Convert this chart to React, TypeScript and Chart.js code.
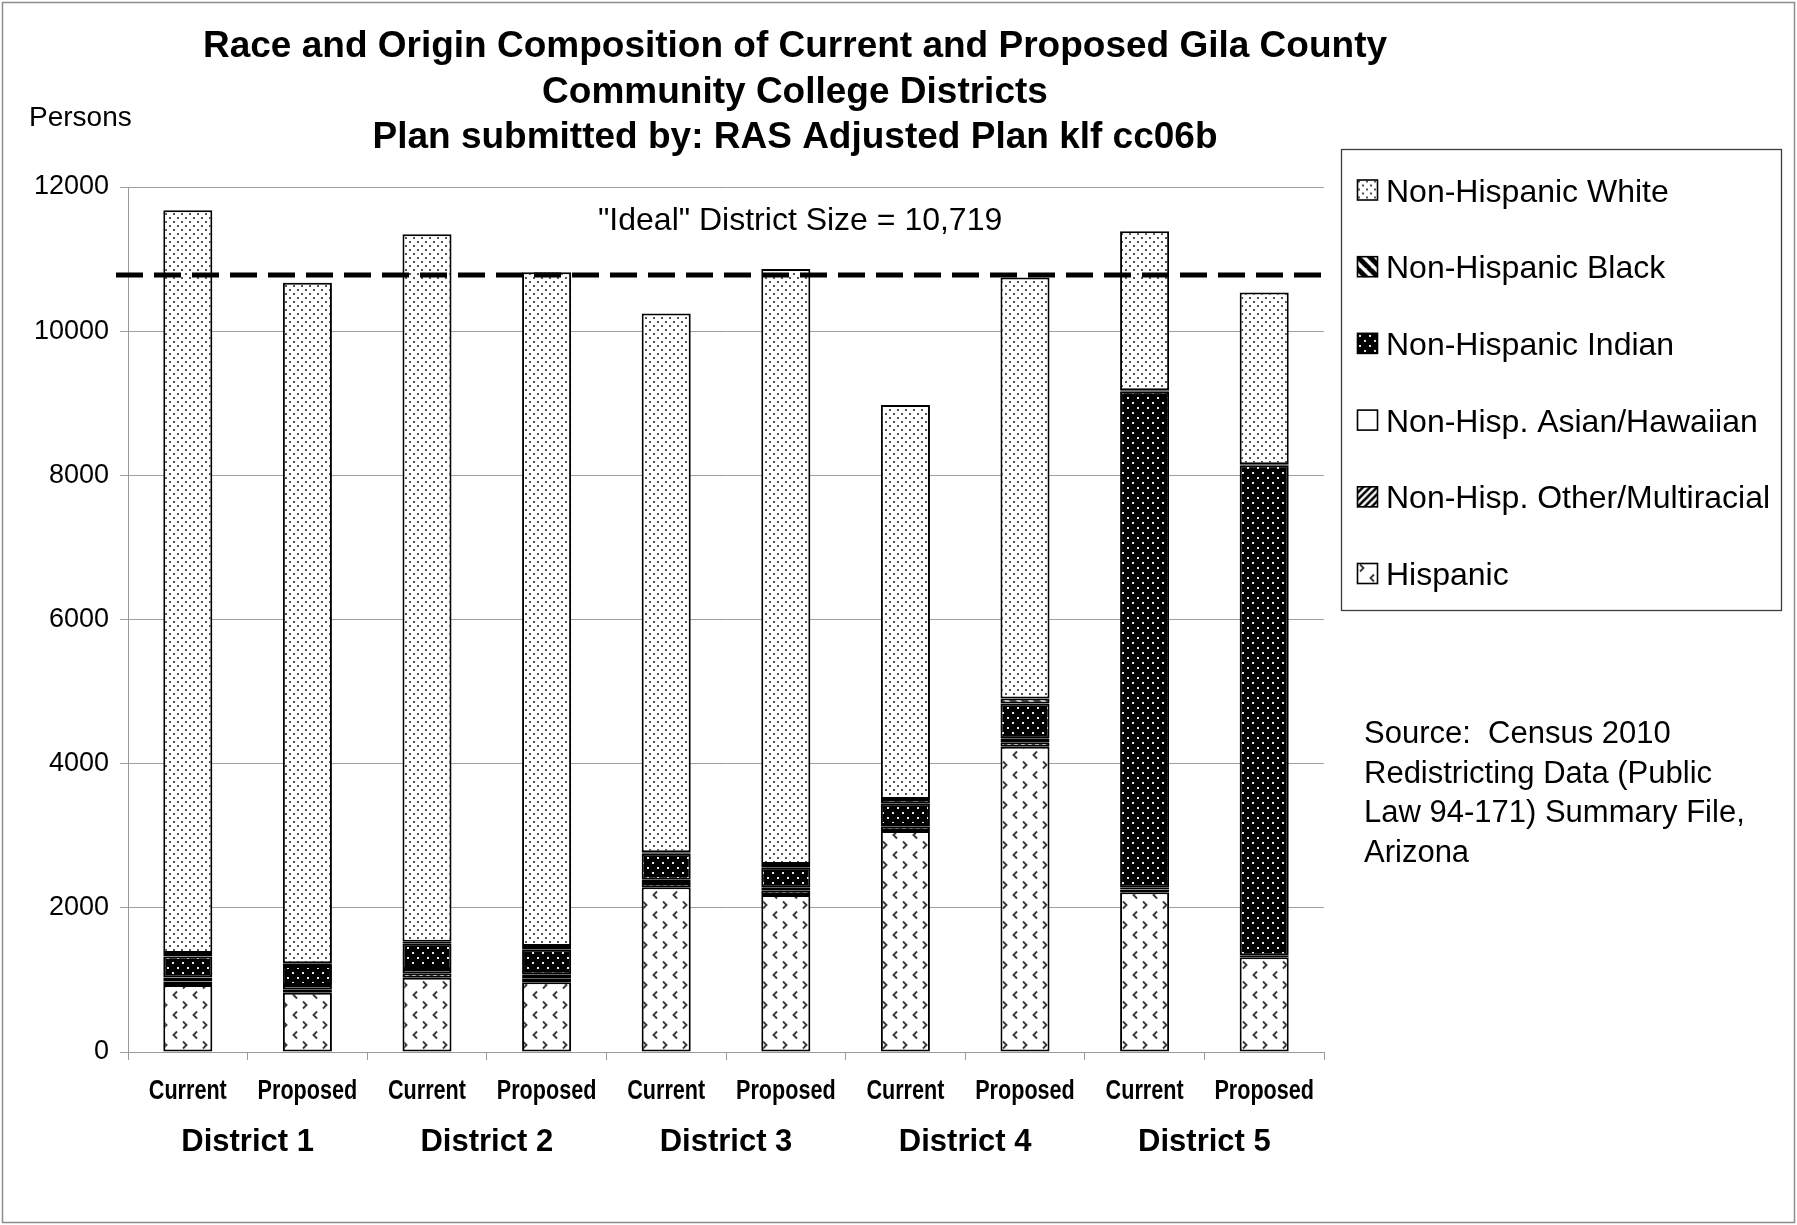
import React, { useEffect, useRef } from 'react';
import { Chart, registerables } from 'chart.js';

Chart.register(...registerables);

// ---------- data ----------
const barLabels = ['Current', 'Proposed', 'Current', 'Proposed', 'Current', 'Proposed', 'Current', 'Proposed', 'Current', 'Proposed'];
const districtLabels = ['District 1', 'District 2', 'District 3', 'District 4', 'District 5'];

const hispanic = [929, 823, 1031, 967, 2284, 2178, 3065, 4235, 2215, 1313];
const otherMulti = [50, 47, 61, 55, 60, 60, 60, 61, 40, 20];
const asianHawaiian = [55, 60, 60, 55, 45, 42, 25, 55, 25, 10];
const indian = [291, 264, 356, 347, 361, 283, 300, 485, 6881, 6797];
const black = [47, 37, 23, 46, 20, 46, 60, 69, 20, 15];
const white = [10306, 9439, 9814, 9348, 7475, 8255, 5467, 5839, 2206, 2381];

const yTickValues = [0, 2000, 4000, 6000, 8000, 10000, 12000];
const idealLineValue = 10780;
const idealText = '"Ideal" District Size = 10,719';

const titleLines = [
  'Race and Origin Composition of Current and Proposed Gila County',
  'Community College Districts',
  'Plan submitted by: RAS Adjusted Plan klf cc06b',
];
const yAxisTitle = 'Persons';
const sourceLines = ['Source:  Census 2010', 'Redistricting Data (Public', 'Law 94-171) Summary File,', 'Arizona'];

// ---------- styling ----------
const FONT = '"Liberation Sans", Arial, Helvetica, sans-serif';

type PatternKind = 'white' | 'black' | 'indian' | 'asian' | 'other' | 'hispanic';

function makePattern(kind: PatternKind): CanvasPattern | string {
  const c = document.createElement('canvas');
  let n = 10;
  if (kind === 'white') n = 8;
  if (kind === 'indian') n = 10;
  if (kind === 'hispanic') n = 20;
  if (kind === 'black') n = 12;
  if (kind === 'other') n = 7;
  c.width = n;
  c.height = n;
  const g = c.getContext('2d');
  if (!g) return '#ffffff';
  if (kind === 'asian') return '#ffffff';
  if (kind === 'white') {
    g.fillStyle = '#ffffff';
    g.fillRect(0, 0, n, n);
    g.fillStyle = '#555555';
    g.fillRect(1, 1, 2, 2);
    g.fillRect(5, 5, 2, 2);
  } else if (kind === 'indian') {
    g.fillStyle = '#000000';
    g.fillRect(0, 0, n, n);
    g.fillStyle = '#e8e8e8';
    g.fillRect(2, 2, 2, 2);
    g.fillRect(7, 7, 2, 2);
  } else if (kind === 'hispanic') {
    g.fillStyle = '#ffffff';
    g.fillRect(0, 0, n, n);
    g.strokeStyle = '#3a3a3a';
    g.lineWidth = 1.9;
    g.beginPath();
    // ">" centred at (5,5)
    g.moveTo(3, 1.5);
    g.lineTo(6.5, 5);
    g.lineTo(3, 8.5);
    // "<" centred at (15,15)
    g.moveTo(17, 11.5);
    g.lineTo(13.5, 15);
    g.lineTo(17, 18.5);
    g.stroke();
  } else if (kind === 'black') {
    g.fillStyle = '#ffffff';
    g.fillRect(0, 0, n, n);
    g.strokeStyle = '#000000';
    g.lineWidth = 5;
    g.beginPath();
    for (let k = -1; k <= 1; k++) {
      g.moveTo(k * n - 1, -1);
      g.lineTo(k * n + n + 1, n + 1);
    }
    g.stroke();
  } else if (kind === 'other') {
    g.fillStyle = '#ffffff';
    g.fillRect(0, 0, n, n);
    g.strokeStyle = '#000000';
    g.lineWidth = 2.6;
    g.beginPath();
    for (let k = -1; k <= 1; k++) {
      g.moveTo(k * n - 1, n + 1);
      g.lineTo(k * n + n + 1, -1);
    }
    g.stroke();
  }
  const p = g.createPattern(c, 'repeat');
  return p || '#ffffff';
}

const decorPlugin = {
  id: 'decor',
  beforeDraw(chart: any) {
    const { ctx, width, height } = chart;
    ctx.save();
    ctx.fillStyle = '#ffffff';
    ctx.fillRect(0, 0, width, height);
    ctx.restore();
  },
  afterDatasetsDraw(chart: any) {
    const { ctx, chartArea } = chart;
    const y = chart.scales.y.getPixelForValue(idealLineValue);
    ctx.save();
    ctx.strokeStyle = '#000000';
    ctx.lineWidth = 5;
    ctx.setLineDash([27, 11]);
    ctx.beginPath();
    ctx.moveTo(chartArea.left - 12, y);
    ctx.lineTo(chartArea.right + 3, y);
    ctx.stroke();
    ctx.restore();
  },
  afterDraw(chart: any) {
    const { ctx } = chart;
    const xs = chart.scales.x;
    ctx.save();
    ctx.fillStyle = '#000000';
    ctx.textBaseline = 'alphabetic';

    // title
    ctx.font = `bold 37px ${FONT}`;
    ctx.textAlign = 'center';
    const titleBase = [56.7, 102.5, 148.3];
    titleLines.forEach((t, i) => ctx.fillText(t, 795, titleBase[i]));

    // category labels (condensed bold, like Arial Narrow)
    ctx.font = `bold 27px ${FONT}`;
    ctx.textAlign = 'center';
    (chart.data.labels as string[]).forEach((lab, i) => {
      const x = xs.getPixelForValue(i);
      ctx.save();
      ctx.translate(x, 1099.3);
      ctx.scale(0.8, 1);
      ctx.fillText(lab, 0, 0);
      ctx.restore();
    });

    // y axis title
    ctx.font = `28px ${FONT}`;
    ctx.textAlign = 'left';
    ctx.fillText(yAxisTitle, 29, 126);

    // ideal label
    ctx.font = `32px ${FONT}`;
    ctx.fillText(idealText, 598, 229.5);

    // district labels
    ctx.font = `bold 31px ${FONT}`;
    ctx.textAlign = 'center';
    districtLabels.forEach((d, i) => {
      const cx = (xs.getPixelForValue(2 * i) + xs.getPixelForValue(2 * i + 1)) / 2;
      ctx.fillText(d, cx, 1150.7);
    });

    // legend
    const lx = 1341.5, ly = 149.5, lw = 440, lh = 461;
    ctx.strokeStyle = '#3c3c3c';
    ctx.lineWidth = 1.3;
    ctx.strokeRect(lx, ly, lw, lh);
    const ds = chart.data.datasets;
    ctx.font = `32px ${FONT}`;
    ctx.textAlign = 'left';
    for (let i = 0; i < ds.length; i++) {
      const d = ds[ds.length - 1 - i];
      const cy = 190 + i * 76.7;
      const bx = 1357, by = cy - 10.5, bs = 21;
      const bg = d.backgroundColor;
      if (bg && typeof bg !== 'string' && typeof bg.setTransform === 'function') {
        bg.setTransform(new DOMMatrix([1, 0, 0, 1, bx, by]));
      }
      ctx.fillStyle = bg;
      ctx.fillRect(bx, by, bs, bs);
      if (bg && typeof bg !== 'string' && typeof bg.setTransform === 'function') {
        bg.setTransform(new DOMMatrix([1, 0, 0, 1, 0, 0]));
      }
      ctx.strokeStyle = '#000000';
      ctx.lineWidth = 1.6;
      ctx.strokeRect(bx + 0.5, by + 0.5, bs - 1, bs - 1);
      ctx.fillStyle = '#000000';
      ctx.fillText(d.label, 1386, cy + 11.5);
    }

    // source note
    ctx.font = `31px ${FONT}`;
    sourceLines.forEach((s, i) => ctx.fillText(s, 1364, 743.3 + i * 39.5));

    // outer frame
    ctx.strokeStyle = '#8c8c8c';
    ctx.lineWidth = 1.5;
    ctx.strokeRect(2.5, 2.5, 1792, 1220);
    ctx.restore();
  },
};

export default function App() {
  const canvasRef = useRef<HTMLCanvasElement | null>(null);

  useEffect(() => {
    document.body.style.margin = '0';
    const canvas = canvasRef.current;
    if (!canvas) return;

    const series: { label: string; data: number[]; kind: PatternKind }[] = [
      { label: 'Hispanic', data: hispanic, kind: 'hispanic' },
      { label: 'Non-Hisp. Other/Multiracial', data: otherMulti, kind: 'other' },
      { label: 'Non-Hisp. Asian/Hawaiian', data: asianHawaiian, kind: 'asian' },
      { label: 'Non-Hispanic Indian', data: indian, kind: 'indian' },
      { label: 'Non-Hispanic Black', data: black, kind: 'black' },
      { label: 'Non-Hispanic White', data: white, kind: 'white' },
    ];

    const chart = new Chart(canvas, {
      type: 'bar',
      data: {
        labels: barLabels,
        datasets: series.map((s) => ({
          label: s.label,
          data: s.data,
          backgroundColor: makePattern(s.kind) as any,
          borderColor: '#000000',
          borderWidth: 2,
          borderSkipped: false,
          barPercentage: 0.41,
          categoryPercentage: 1,
        })),
      },
      options: {
        responsive: false,
        animation: false,
        devicePixelRatio: 1,
        events: [],
        layout: { padding: { left: 0, right: 473, top: 187, bottom: 73 } },
        plugins: {
          legend: { display: false },
          title: { display: false },
          tooltip: { enabled: false },
        },
        scales: {
          x: {
            stacked: true,
            offset: true,
            grid: {
              display: true,
              drawOnChartArea: false,
              drawTicks: true,
              tickLength: 8,
              color: '#9a9a9a',
              offset: true,
            },
            border: { display: true, color: '#9a9a9a', width: 1 },
            ticks: {
              display: false,
            },
            afterFit: (scale: any) => {
              scale.height = 100;
            },
          },
          y: {
            stacked: true,
            min: 0,
            max: 12000,
            afterBuildTicks: (scale: any) => {
              scale.ticks = yTickValues.map((v) => ({ value: v }));
            },
            grid: {
              color: '#a0a0a0',
              tickLength: 8,
              drawTicks: true,
            },
            border: { display: true, color: '#9a9a9a', width: 1 },
            ticks: {
              color: '#000000',
              font: { family: FONT, size: 27 },
              padding: 11,
              callback: (v: any) => String(v),
            },
            afterFit: (scale: any) => {
              scale.width = 128;
            },
          },
        },
      },
      plugins: [decorPlugin],
    });

    return () => {
      chart.destroy();
    };
  }, []);

  return (
    <div style={{ position: 'absolute', left: 0, top: 0, width: 1797, height: 1225, background: '#ffffff' }}>
      <canvas ref={canvasRef} width={1797} height={1225} style={{ display: 'block' }} />
    </div>
  );
}
